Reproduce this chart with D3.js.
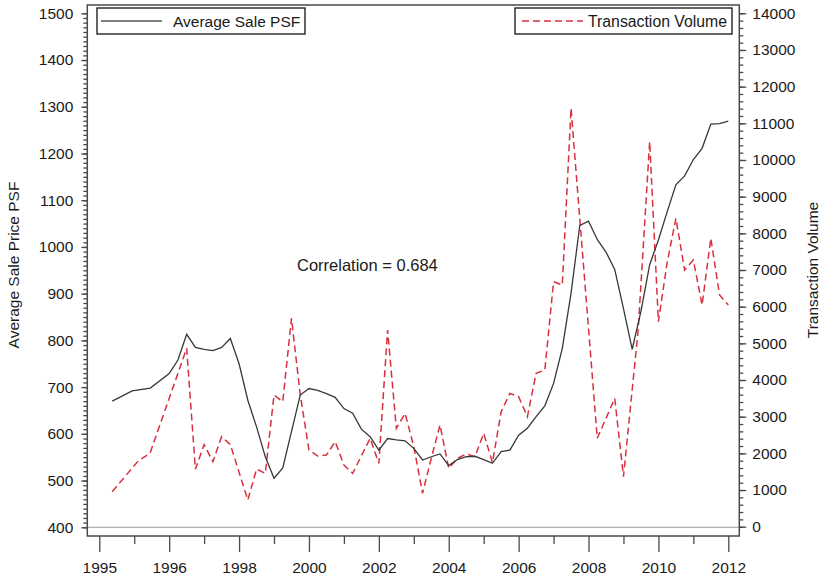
<!DOCTYPE html>
<meta charset="utf-8">
<head>
  <title>Average Sale PSF vs Transaction Volume</title>
  <style>
    body { margin: 0; background: #fff; }
    text { font-family: "Liberation Sans", Arial, sans-serif; fill: #1a1a1a; }
  </style>
</head>
<body>
<div id="chart"></div>
<script src="https://d3js.org/d3.v7.min.js"></script>
<script>

// x tick labels, as printed on the original (first one reads 1995)
var xTickYears  = [1994, 1996, 1998, 2000, 2002, 2004, 2006, 2008, 2010, 2012];
var xTickLabels = ["1995", "1996", "1998", "2000", "2002", "2004", "2006", "2008", "2010", "2012"];

// Average sale price psf (left axis)
var psfDates = [1994.37, 1994.94, 1995.46, 1996.0, 1996.25, 1996.5, 1996.75, 1997.0, 1997.25, 1997.5,
  1997.75, 1998.0, 1998.25, 1998.5, 1998.75, 1999.0, 1999.25, 1999.75, 2000.0, 2000.25,
  2000.5, 2000.75, 2001.0, 2001.25, 2001.5, 2001.75, 2002.0, 2002.25, 2002.5, 2002.75,
  2003.0, 2003.25, 2003.5, 2003.75, 2004.0, 2004.25, 2004.5, 2004.75, 2005.0, 2005.25,
  2005.5, 2005.75, 2006.0, 2006.25, 2006.5, 2006.75, 2007.0, 2007.25, 2007.5, 2007.75,
  2008.0, 2008.25, 2008.5, 2008.75, 2009.0, 2009.25, 2009.5, 2009.75, 2010.0, 2010.25,
  2010.5, 2010.75, 2011.0, 2011.25, 2011.5, 2011.75, 2012.0];
var psfValues = [670, 692, 698, 729, 758, 813, 785, 781, 778, 785,
  804, 750, 672, 615, 551, 505, 527, 683, 697, 693,
  686, 678, 654, 644, 610, 594, 565, 590, 587, 585,
  569, 544, 551, 557, 532, 545, 551, 552, 545, 537,
  562, 565, 597, 612, 637, 660, 708, 783, 901, 1046,
  1055, 1016, 989, 952, 868, 781, 862, 962, 1015, 1075,
  1133, 1152, 1187, 1211, 1263, 1264, 1269];

// Transaction volume (right axis)
var volDates = [1994.37, 1995.12, 1995.45, 1996.5, 1996.75, 1997.0, 1997.25, 1997.5, 1997.75, 1998.25,
  1998.5, 1998.75, 1999.0, 1999.25, 1999.5, 1999.75, 2000.0, 2000.25, 2000.5, 2000.75,
  2001.0, 2001.25, 2001.75, 2002.0, 2002.25, 2002.5, 2002.75, 2003.0, 2003.25, 2003.5,
  2003.75, 2004.0, 2004.25, 2004.5, 2004.75, 2005.0, 2005.25, 2005.5, 2005.75, 2006.0,
  2006.25, 2006.5, 2006.75, 2007.0, 2007.25, 2007.5, 2007.75, 2008.25, 2008.75, 2009.0,
  2009.42, 2009.75, 2010.0, 2010.25, 2010.5, 2010.75, 2011.0, 2011.25, 2011.5, 2011.75, 2012.0];
var volValues = [955, 1800, 2000, 4865, 1570, 2240, 1773, 2455, 2240, 728,
  1570, 1455, 3592, 3410, 5683, 3600, 2092, 1928, 1955, 2318,
  1683, 1455, 2410, 1728, 5364, 2683, 3092, 2182, 910, 1865,
  2773, 1592, 1865, 1983, 1910, 2545, 1750, 3136, 3637, 3545,
  3000, 4183, 4273, 6682, 6592, 11410, 8400, 2410, 3500, 1364,
  5350, 10500, 5591, 7200, 8410, 7000, 7273, 6046, 7865, 6318, 6046];

var leftTicks  = d3.range(400, 1501, 100);
var rightTicks = d3.range(0, 14001, 1000);

var width = 821, height = 580;
var frame = {left: 87.3, right: 739.3, top: 5, bottom: 536};

var svg = d3.select("#chart").append("svg")
    .attr("width", width)
    .attr("height", height);

var x = d3.scaleLinear().domain([1994, 2012]).range([99.3, 728.3]);
var yL = d3.scaleLinear().domain([400, 1500]).range([527.3, 13.3]);
var yR = d3.scaleLinear().domain([0, 14000]).range([526.7, 13.3]);

var axisColor = "#4a4a4a";
var red = "#d9303f";

// baseline at 400 / 0
svg.append("line")
    .attr("x1", frame.left).attr("x2", frame.right)
    .attr("y1", yL(400)).attr("y2", yL(400))
    .style("stroke", "#9a9a9a").style("stroke-width", 1);

// minor ticks
svg.append("g").attr("transform", "translate(" + frame.left + ",0)")
    .call(d3.axisLeft(yL).tickValues(d3.range(400, 1501, 10)).tickSize(4).tickFormat(""));
svg.append("g").attr("transform", "translate(" + frame.right + ",0)")
    .call(d3.axisRight(yR).tickValues(d3.range(0, 14001, 200)).tickSize(4).tickFormat(""));
svg.append("g").attr("transform", "translate(0," + frame.bottom + ")")
    .call(d3.axisBottom(x).tickValues(d3.range(1995, 2012, 2)).tickSize(8).tickFormat(""));

// major ticks + labels
svg.append("g").attr("transform", "translate(" + frame.left + ",0)")
    .call(d3.axisLeft(yL).tickValues(leftTicks).tickSize(6).tickPadding(8).tickFormat(d3.format("d")));
svg.append("g").attr("transform", "translate(" + frame.right + ",0)")
    .call(d3.axisRight(yR).tickValues(rightTicks).tickSize(7).tickPadding(6).tickFormat(d3.format("d")));
svg.append("g").attr("transform", "translate(0," + frame.bottom + ")")
    .call(d3.axisBottom(x).tickValues(xTickYears).tickSize(16).tickPadding(10)
      .tickFormat(function(d, i) { return xTickLabels[i]; }));

svg.selectAll(".domain").remove();
svg.selectAll(".tick line").style("stroke", axisColor).style("stroke-width", 1.3);
svg.selectAll(".tick text").style("font-size", "15.5px").style("fill", "#1a1a1a");

// frame
svg.append("rect")
    .attr("x", frame.left).attr("y", frame.top)
    .attr("width", frame.right - frame.left).attr("height", frame.bottom - frame.top)
    .style("fill", "none").style("stroke", axisColor).style("stroke-width", 1.5);

// series
var psfLine = d3.line()
    .x(function(d, i) { return x(psfDates[i]); })
    .y(function(d) { return yL(d); });
var volLine = d3.line()
    .x(function(d, i) { return x(volDates[i]); })
    .y(function(d) { return yR(d); });

svg.append("path")
    .attr("d", volLine(volValues))
    .style("fill", "none").style("stroke", red)
    .style("stroke-width", 1.5).style("stroke-dasharray", "7,4");

svg.append("path")
    .attr("d", psfLine(psfValues))
    .style("fill", "none").style("stroke", "#383838")
    .style("stroke-width", 1.3);

// axis titles
svg.append("text")
    .attr("transform", "translate(19,265) rotate(-90)")
    .attr("text-anchor", "middle")
    .style("font-size", "15.5px")
    .text("Average Sale Price PSF");
svg.append("text")
    .attr("transform", "translate(818,270) rotate(-90)")
    .attr("text-anchor", "middle")
    .style("font-size", "15.5px")
    .text("Transaction Volume");

// correlation note
svg.append("text")
    .attr("x", 297).attr("y", 271)
    .style("font-size", "16.5px")
    .text("Correlation = 0.684");

// legends
svg.append("rect").attr("x", 97).attr("y", 8).attr("width", 208).attr("height", 26)
    .style("fill", "#fff").style("stroke", "#111").style("stroke-width", 1.3);
svg.append("line").attr("x1", 101).attr("x2", 162).attr("y1", 21).attr("y2", 21)
    .style("stroke", "#555").style("stroke-width", 1.3);
svg.append("text").attr("x", 173).attr("y", 27).style("font-size", "15.5px").text("Average Sale PSF");

svg.append("rect").attr("x", 515).attr("y", 8).attr("width", 217).attr("height", 26)
    .style("fill", "#fff").style("stroke", "#111").style("stroke-width", 1.3);
svg.append("line").attr("x1", 522).attr("x2", 583).attr("y1", 21).attr("y2", 21)
    .style("stroke", red).style("stroke-width", 1.5).style("stroke-dasharray", "7,4");
svg.append("text").attr("x", 588).attr("y", 27).style("font-size", "15.8px").text("Transaction Volume");

</script>
</body>
</html>
